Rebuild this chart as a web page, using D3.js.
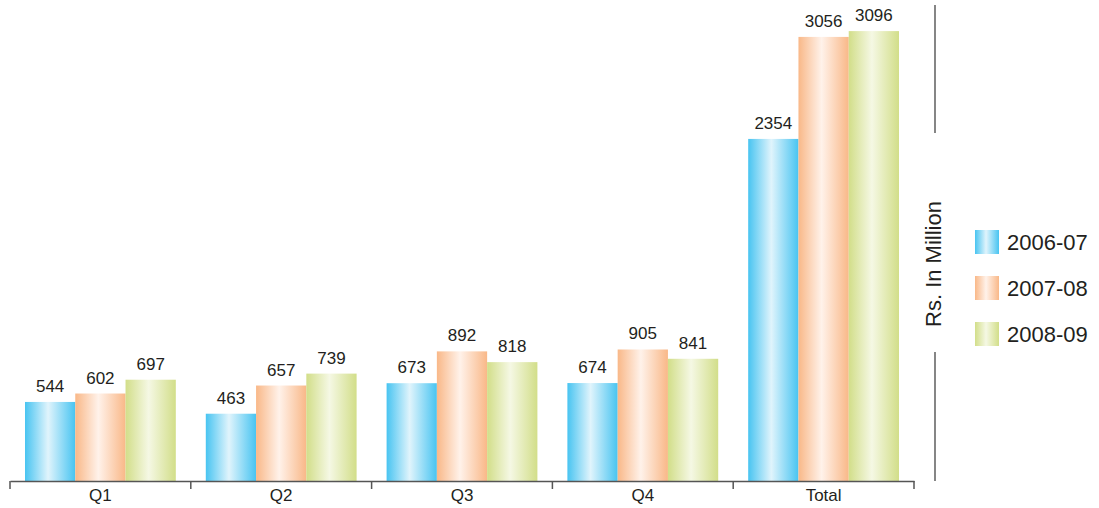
<!DOCTYPE html>
<html>
<head>
<meta charset="utf-8">
<script src="https://cdn.jsdelivr.net/npm/d3@7"></script>
<style>
  html, body { margin: 0; padding: 0; background: #fff; }
  svg { display: block; font-family: "Liberation Sans", Arial, sans-serif; }
</style>
</head>
<body>
<svg id="chart" width="1099" height="508"></svg>
<script>
// Quarterly figures, Rs. in million
const categories = ["Q1", "Q2", "Q3", "Q4", "Total"];
const seriesNames = ["2006-07", "2007-08", "2008-09"];
const values2006 = [544, 463, 673, 674, 2354];
const values2007 = [602, 657, 892, 905, 3056];
const values2008 = [697, 739, 818, 841, 3096];
const seriesValues = [values2006, values2007, values2008];

// edge and centre colours for each series' cylinder-like shading
const edgeColors = ["#48c4f1", "#f9b888", "#d2de89"];
const midColors = ["#e0f4fc", "#fff2ea", "#f5f8e4"];

const FONT = "\"Liberation Sans\", Arial, sans-serif";
const svg = d3.select("#chart");
const defs = svg.append("defs");

seriesNames.forEach((name, i) => {
  const g = defs.append("linearGradient")
    .attr("id", "grad" + i)
    .attr("x1", "0%").attr("x2", "100%").attr("y1", "0%").attr("y2", "0%");
  g.append("stop").attr("offset", "0%").attr("stop-color", edgeColors[i]);
  g.append("stop").attr("offset", "46%").attr("stop-color", midColors[i]);
  g.append("stop").attr("offset", "100%").attr("stop-color", edgeColors[i]);
});

const baseY = 481;
const x0 = d3.scaleBand().domain(categories).range([10, 914]).paddingInner(0).paddingOuter(0);
const x1 = d3.scaleBand().domain(seriesNames).range([15, x0.bandwidth() - 15]).padding(0);
const y = d3.scaleLinear().domain([0, 3310]).range([baseY, 0]);

const groups = svg.append("g").selectAll("g")
  .data(categories)
  .join("g")
  .attr("transform", d => `translate(${x0(d)},0)`);

const cells = (c, ci) => seriesNames.map((s, si) => ({ s, si, v: seriesValues[si][ci] }));

groups.selectAll("rect")
  .data(cells)
  .join("rect")
  .attr("x", d => x1(d.s))
  .attr("width", x1.bandwidth())
  .attr("y", d => y(d.v))
  .attr("height", d => baseY - y(d.v))
  .attr("fill", d => `url(#grad${d.si})`);

groups.selectAll("text.val")
  .data(cells)
  .join("text")
  .attr("class", "val")
  .attr("x", d => x1(d.s) + x1.bandwidth() / 2)
  .attr("y", d => y(d.v) - 10)
  .attr("text-anchor", "middle")
  .attr("font-size", 17)
  .attr("fill", "#231f20")
  .text(d => d.v);

// category axis along the bottom
const axis = d3.axisBottom(x0).tickSize(0).tickPadding(8);
const axG = svg.append("g").attr("transform", `translate(0,${baseY})`).call(axis);
axG.attr("font-size", 17).attr("font-family", FONT);
axG.select(".domain").attr("stroke", "#555").attr("stroke-width", 1.5);
axG.selectAll(".tick text").attr("font-size", 17).attr("fill", "#231f20");

const boundaries = categories.map(c => x0(c)).concat([x0.range()[1]]);
axG.selectAll("line.sep")
  .data(boundaries)
  .join("line")
  .attr("class", "sep")
  .attr("x1", d => d).attr("x2", d => d)
  .attr("y1", 0).attr("y2", 8)
  .attr("stroke", "#555").attr("stroke-width", 1.5);

// vertical value-axis rule with its label set into a gap
const ruleX = 935;
svg.append("line").attr("x1", ruleX).attr("x2", ruleX).attr("y1", 5).attr("y2", 133)
  .attr("stroke", "#444").attr("stroke-width", 1.3);
svg.append("line").attr("x1", ruleX).attr("x2", ruleX).attr("y1", 352).attr("y2", baseY)
  .attr("stroke", "#444").attr("stroke-width", 1.3);
svg.append("text")
  .attr("transform", `translate(941,264) rotate(-90)`)
  .attr("text-anchor", "middle")
  .attr("font-size", 22)
  .attr("fill", "#231f20")
  .text("Rs. In Million");

// legend
const legend = svg.append("g").selectAll("g")
  .data(seriesNames)
  .join("g")
  .attr("transform", (d, i) => `translate(975,${230 + i * 46})`);
legend.append("rect")
  .attr("width", 24).attr("height", 24)
  .attr("fill", (d, i) => `url(#grad${i})`);
legend.append("text")
  .attr("x", 32).attr("y", 12).attr("dy", "0.36em")
  .attr("font-size", 22)
  .attr("fill", "#231f20")
  .text(d => d);
</script>
</body>
</html>
